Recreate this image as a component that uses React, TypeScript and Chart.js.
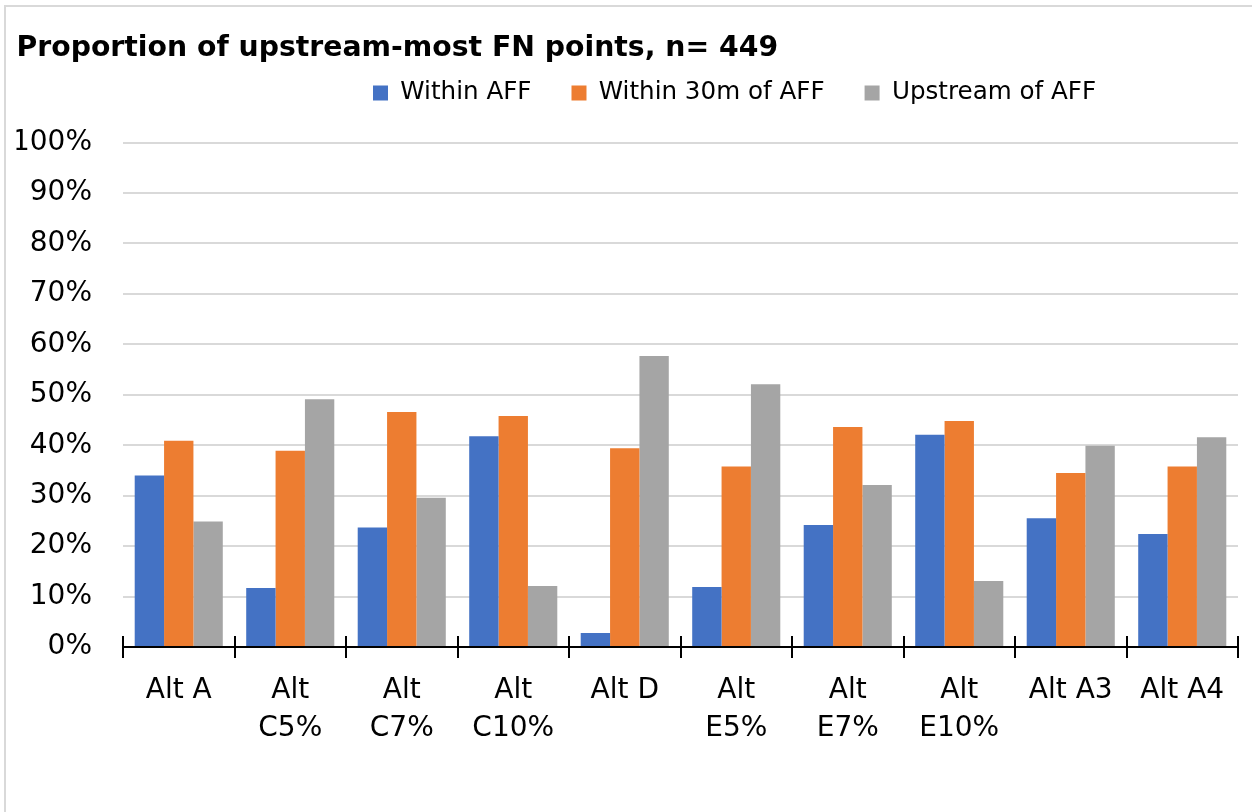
import React, { useEffect, useRef } from "react";
import { Chart, registerables } from "chart.js";

Chart.register(...registerables);

const categories: (string | string[])[] = [
  "Alt A",
  ["Alt", "C5%"],
  ["Alt", "C7%"],
  ["Alt", "C10%"],
  "Alt D",
  ["Alt", "E5%"],
  ["Alt", "E7%"],
  ["Alt", "E10%"],
  "Alt A3",
  "Alt A4",
];

const withinAFF = [34.0, 11.7, 23.7, 41.8, 2.8, 11.9, 24.2, 42.1, 25.5, 22.4];
const within30m = [40.9, 38.9, 46.6, 45.8, 39.4, 35.8, 43.6, 44.8, 34.5, 35.8];
const upstream = [24.9, 49.1, 29.6, 12.1, 57.7, 52.1, 32.1, 13.1, 39.9, 41.6];

const seriesNames = ["Within AFF", "Within 30m of AFF", "Upstream of AFF"];
const seriesColors = ["#4472C4", "#ED7D31", "#A5A5A5"];

const titleText = "Proportion of upstream-most FN points, n= 449";

const FONT = "'DejaVu Sans', 'Open Sans', sans-serif";
const LEGEND_FONT_SIZE = 24.6;
const LEGEND_BOX = 15;
const LEGEND_PAD = 40;

const legendPlacer = {
  id: "legendPlacer",
  afterLayout(chart: any) {
    const lg = chart.legend;
    if (!lg || !lg.lineWidths) return;
    const lw = lg.lineWidths[0];
    const start = (lg.left + LEGEND_PAD + lg.right - lw) / 2;
    const dx = 373 - start;
    lg.left += dx;
    lg.right += dx;
    const itemH = Math.max(LEGEND_FONT_SIZE, LEGEND_BOX);
    const cy = lg.top + LEGEND_PAD + itemH / 2;
    const dy = 93 - cy;
    lg.top += dy;
    lg.bottom += dy;
  },
};

const crossTicks = {
  id: "crossTicks",
  afterDraw(chart: any) {
    const xs = chart.scales.x;
    const ys = chart.scales.y;
    const y0 = ys.getPixelForValue(0);
    const ctx = chart.ctx;
    ctx.save();
    ctx.strokeStyle = "#000";
    ctx.lineWidth = 2;
    ctx.beginPath();
    for (let i = 0; i <= categories.length; i++) {
      const x = Math.round(xs.getPixelForValue(i - 0.5));
      ctx.moveTo(x, y0 - 11);
      ctx.lineTo(x, y0 + 11);
    }
    ctx.stroke();
    ctx.restore();
  },
};

export default function App() {
  const canvasRef = useRef<HTMLCanvasElement | null>(null);

  useEffect(() => {
    document.body.style.margin = "0";
    const canvas = canvasRef.current;
    if (!canvas) return;
    const datasets = [withinAFF, within30m, upstream].map((d, i) => ({
      label: seriesNames[i],
      data: d,
      backgroundColor: seriesColors[i],
      borderWidth: 0,
      categoryPercentage: 0.79,
      barPercentage: 1,
    }));
    const chart = new Chart(canvas, {
      type: "bar",
      data: { labels: categories as any, datasets },
      plugins: [legendPlacer, crossTicks],
      options: {
        animation: false,
        responsive: false,
        devicePixelRatio: 1,
        layout: { padding: { left: 16.5, right: 14, top: 0, bottom: 47 } },
        plugins: {
          title: {
            display: true,
            text: titleText,
            align: "start",
            color: "#000",
            font: { family: FONT, size: 28.3, weight: "bold", lineHeight: 1.2 },
            padding: { top: 32, bottom: 2 },
          },
          legend: {
            display: true,
            position: "top",
            align: "center",
            labels: {
              color: "#000",
              boxWidth: LEGEND_BOX,
              boxHeight: LEGEND_BOX,
              padding: LEGEND_PAD,
              font: { family: FONT, size: LEGEND_FONT_SIZE },
            },
          },
          tooltip: { enabled: false },
        },
        scales: {
          x: {
            grid: { display: false },
            border: { display: true, color: "#000", width: 2 },
            ticks: {
              color: "#000",
              padding: 17,
              maxRotation: 0,
              autoSkip: false,
              font: { family: FONT, size: 28, lineHeight: 1.357 },
            },
          },
          y: {
            min: 0,
            max: 100,
            afterFit(scale: any) {
              scale.width = 106.5;
            },
            grid: { color: "#d9d9d9", lineWidth: 2, drawTicks: false },
            border: { display: false },
            ticks: {
              stepSize: 10,
              color: "#000",
              padding: 31,
              font: { family: FONT, size: 28 },
              callback: (v: any) => v + "%",
            },
          },
        },
      },
    });
    return () => chart.destroy();
  }, []);

  return (
    <div style={{ position: "relative", width: 1252, height: 812, overflow: "hidden", background: "#fff" }}>
      <div
        style={{
          position: "absolute",
          left: 4,
          top: 5,
          width: 1400,
          height: 1000,
          borderLeft: "2px solid #d9d9d9",
          borderTop: "2px solid #d9d9d9",
        }}
      />
      <canvas
        ref={canvasRef}
        width={1252}
        height={812}
        style={{ position: "absolute", left: 0, top: 0, width: 1252, height: 812 }}
      />
    </div>
  );
}
